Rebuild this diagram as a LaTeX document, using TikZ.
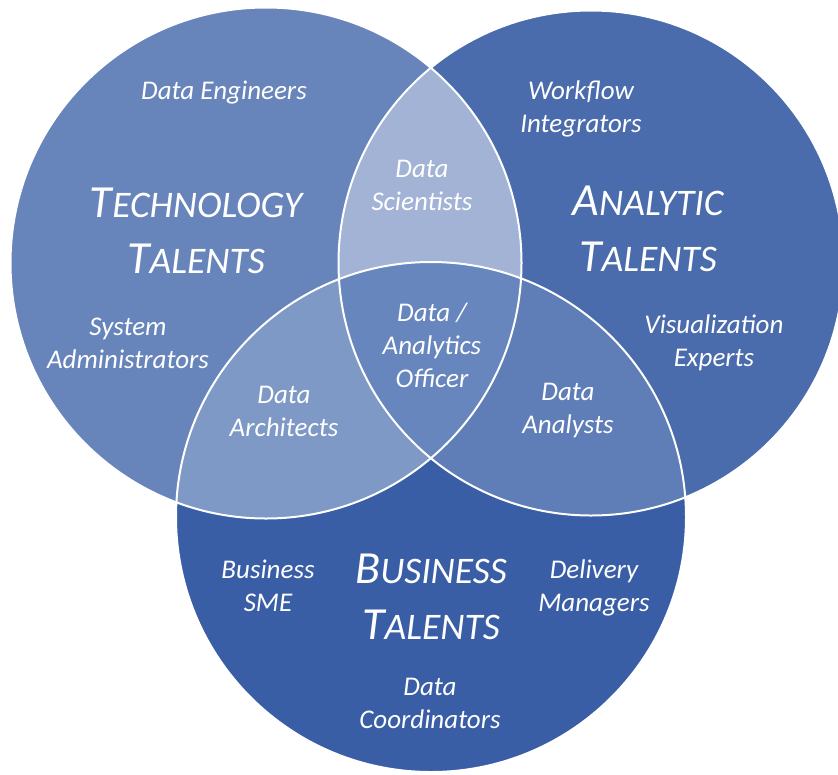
\documentclass[tikz,border=0pt]{standalone}
\usepackage{fontspec}
\setmainfont{Carlito}
\newcommand\stk[1]{\vtop{\halign{\hfil##\hfil\cr#1\crcr}}}
\newcommand\tsc[2]{{\fontsize{46}{56}\selectfont #1}{\fontsize{37.5}{56}\selectfont #2}}
\definecolor{cL}{HTML}{6885BB}
\definecolor{cR}{HTML}{4A6BAC}
\definecolor{cB}{HTML}{395EA6}
\definecolor{cLR}{HTML}{A2B3D5}
\definecolor{cLB}{HTML}{7F99C6}
\definecolor{cRB}{HTML}{5F7DB6}
\definecolor{cC}{HTML}{6786BD}
\tikzset{
  lbl/.style={text=white, inner sep=0pt, anchor=base, font=\fontsize{27}{33}\selectfont\itshape},
  ttl/.style={text=white, inner sep=0pt, anchor=base, font=\fontsize{46}{56}\selectfont\itshape},
  rim/.style={draw=white, line width=2pt}
}
\begin{document}
\begin{tikzpicture}[x=1pt,y=-1pt]
\useasboundingbox (0,0) rectangle (838,774);
\def\Lc{(266,263) circle[radius=255.5]}
\def\Rc{(591,263) circle[radius=252.5]}
\def\Bc{(431,517) circle[radius=255]}
\fill[cL] \Lc;
\fill[cR] \Rc;
\fill[cB] \Bc;
\begin{scope}
  \clip \Lc;
  \fill[cLR] \Rc;
  \fill[cLB] \Bc;
\end{scope}
\begin{scope}
  \clip \Rc;
  \fill[cRB] \Bc;
\end{scope}
\begin{scope}
  \clip \Lc;
  \clip \Rc;
  \fill[cC] \Bc;
\end{scope}
\draw[rim] \Lc;
\draw[rim] \Rc;
\draw[rim] \Bc;
% labels
\node[lbl] (eng) at (224,99) {Data Engineers};
\node[ttl] (tech) at (196,217) {\stk{\tsc{T}{ECHNOLOGY}\cr\tsc{T}{ALENTS}}};
\node[lbl] (sys) at (128,335) {\stk{System\cr Administrators}};
\node[lbl] (sci) at (422,177) {\stk{Data\cr Scientists}};
\node[lbl] (wf) at (581,99) {\stk{Workflow\cr Integrators}};
\node[ttl] (ana) at (648,215) {\stk{\tsc{A}{NALYTIC}\cr\tsc{T}{ALENTS}}};
\node[lbl] (vis) at (714,333) {\stk{Visualization\cr Experts}};
\node[lbl] (dao) at (432,321) {\stk{Data /\cr Analytics\cr Officer}};
\node[lbl] (arch) at (284,403) {\stk{Data\cr Architects}};
\node[lbl] (anl) at (568,400) {\stk{Data\cr Analysts}};
\node[lbl] (sme) at (268,578) {\stk{Business\cr SME}};
\node[ttl] (bus) at (431,583) {\stk{\tsc{B}{USINESS}\cr\tsc{T}{ALENTS}}};
\node[lbl] (del) at (594,578) {\stk{Delivery\cr Managers}};
\node[lbl] (coord) at (430,695) {\stk{Data\cr Coordinators}};
\end{tikzpicture}
\end{document}
